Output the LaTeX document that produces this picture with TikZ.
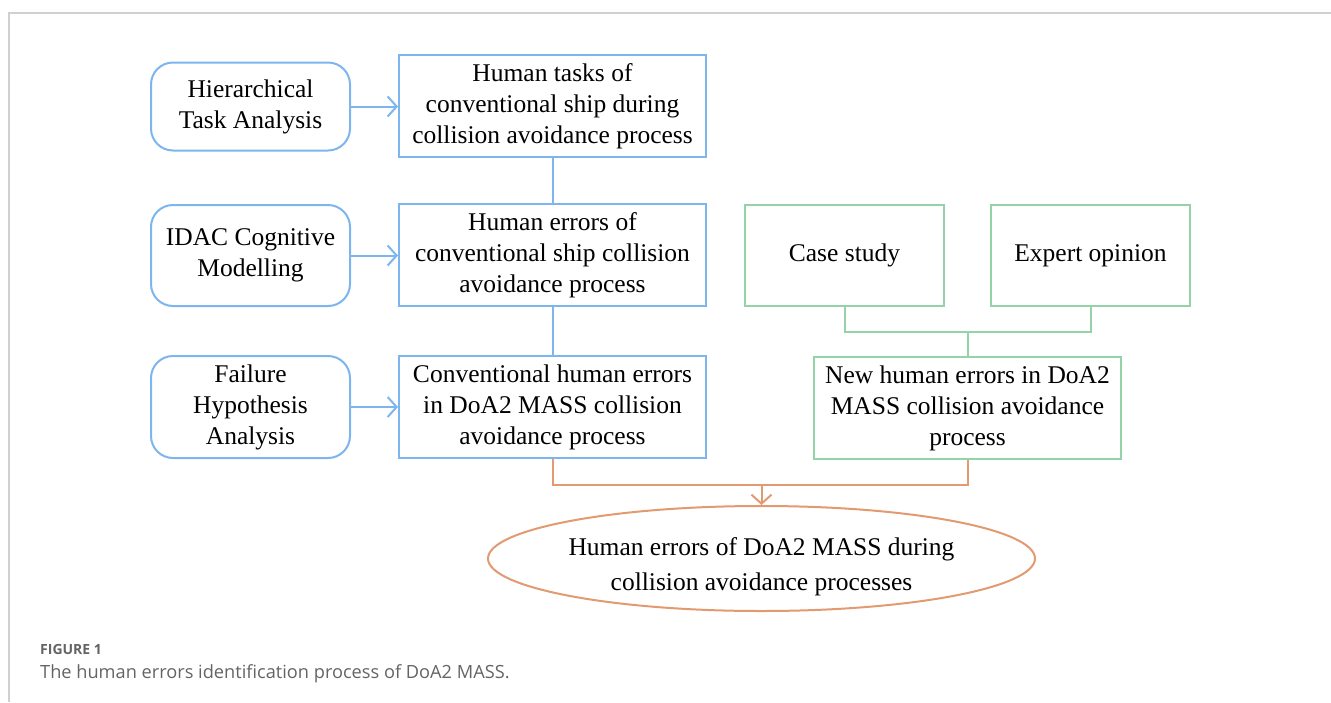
\documentclass[tikz,border=0pt]{standalone}
\usepackage{fontspec}
\setmainfont{Liberation Serif}
\newfontfamily\capfont{Open Sans}
\usetikzlibrary{arrows.meta,shapes.geometric}
\definecolor{cblue}{RGB}{125,182,238}
\definecolor{cgreen}{RGB}{148,210,168}
\definecolor{corange}{RGB}{226,154,112}
\definecolor{cframe}{RGB}{208,208,208}
\definecolor{ccap}{RGB}{100,100,100}
\begin{document}
\begin{tikzpicture}[x=1pt,y=-1pt,
  txt/.style={align=center,font=\fontsize{25.5}{31}\selectfont,inner sep=0pt},
  bbox/.style={txt,draw=cblue,line width=2pt,minimum width=307pt,minimum height=102pt},
  rbox/.style={txt,draw=cblue,line width=2pt,rounded corners=22pt,minimum width=199pt,minimum height=88pt},
  gbox/.style={txt,draw=cgreen,line width=2pt,minimum width=199pt,minimum height=101pt},
  ebox/.style={txt,font=\fontsize{25.5}{35}\selectfont,draw=corange,line width=2pt,ellipse,minimum width=547pt,minimum height=105pt},
  bl/.style={draw=cblue,line width=2pt},
  gl/.style={draw=cgreen,line width=2pt},
  ol/.style={draw=corange,line width=2pt},
  tip/.style={-{Straight Barb[length=9pt,width=20pt]}}
]
\useasboundingbox (0,0) rectangle (1331,702);
\draw[cframe,line width=2pt] (9,702) -- (9,13) -- (1331,13);

\node[rbox] (hta) at (250.5,106.5) {Hierarchical\\Task Analysis};
\node[rbox,minimum height=101pt] (idac) at (250.5,255.5) {IDAC Cognitive\\Modelling};
\node[rbox,minimum height=102pt] (fha) at (250.5,407) {Failure\\Hypothesis\\Analysis};

\node[bbox] (b1) at (552.5,106) {Human tasks of\\conventional ship during\\collision avoidance process};
\node[bbox] (b2) at (552.5,255) {Human errors of\\conventional ship collision\\avoidance process};
\node[bbox] (b3) at (552.5,407) {Conventional human errors\\in DoA2 MASS collision\\avoidance process};

\node[gbox] (cs) at (844.5,255.5) {Case study};
\node[gbox] (eo) at (1090.5,255.5) {Expert opinion};
\node[bbox,draw=cgreen] (nh) at (967.5,408) {New human errors in DoA2\\MASS collision avoidance\\process};

\node[ebox] (el) at (761.5,558.5) {\raisebox{-13.5pt}[0pt][0pt]{\begin{tabular}[c]{@{}c@{}}Human errors of DoA2 MASS during\\collision avoidance processes\end{tabular}}};

\draw[bl,tip] (hta.east) -- (b1.west |- hta.east);
\draw[bl,tip] (idac.east) -- (b2.west |- idac.east);
\draw[bl,tip] (fha.east) -- (b3.west |- fha.east);
\draw[bl] (b1.south) -- (b2.north);
\draw[bl] (b2.south) -- (b3.north);

\coordinate (gj) at (967.5,332);
\draw[gl] (cs.south) |- (gj) -| (eo.south);
\draw[gl] (gj) -- (nh.north);

\coordinate (oj) at (761.5,485);
\draw[ol] (b3.south) |- (oj) -| (nh.south);
\draw[ol,tip] (oj) -- (el.north);

\node[anchor=base west,inner sep=0pt,text=ccap,font=\capfont\fontsize{14}{16}\selectfont\bfseries] (fig) at (40,654) {FIGURE 1};
\node[anchor=base west,inner sep=0pt,text=ccap,font=\capfont\fontsize{18.2}{20}\selectfont] (cap) at (40,678) {The human errors identification process of DoA2 MASS.};
\end{tikzpicture}
\end{document}
